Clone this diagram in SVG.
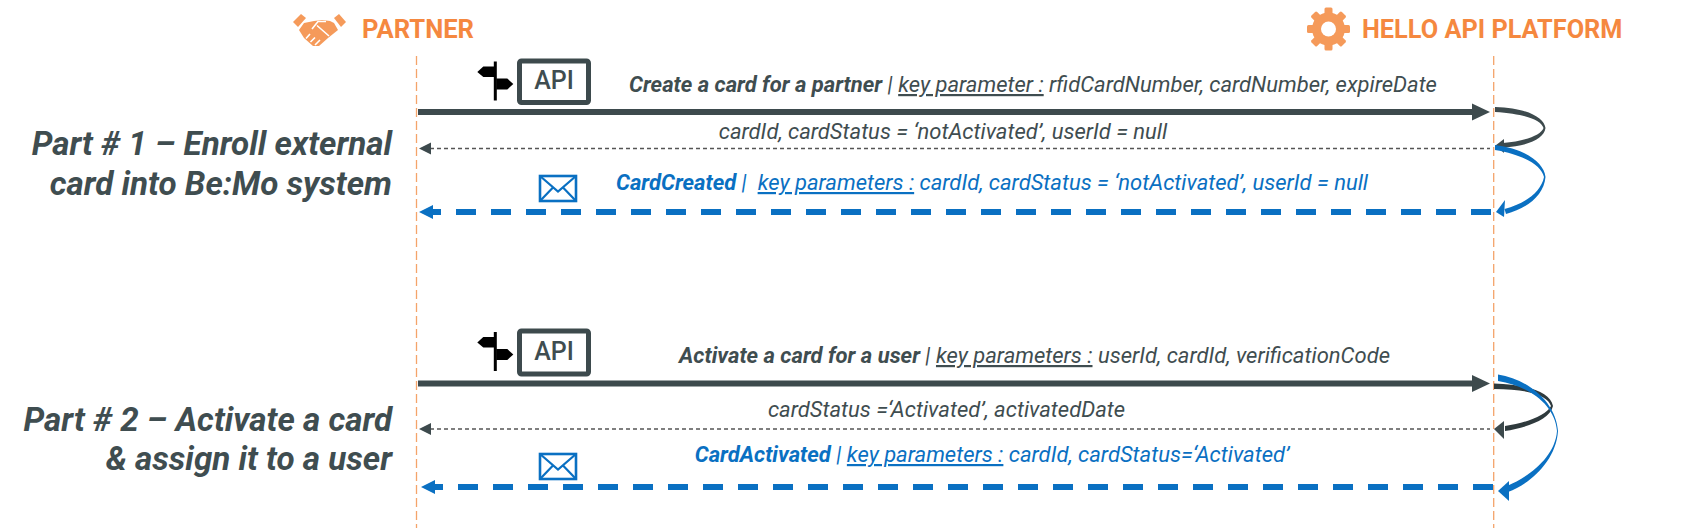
<svg xmlns="http://www.w3.org/2000/svg" width="1694" height="531" viewBox="0 0 1694 531">
<style>
text{font-family:Roboto,"Liberation Sans",sans-serif}
.life{stroke:#f4a46a;stroke-width:1.3;stroke-dasharray:9 4;fill:none}
.h{font-size:25.600px;font-weight:700;fill:#f5883f}
.t{font-size:33.200px;font-weight:700;font-style:italic;fill:#3f4d50;text-anchor:end}
.m{font-size:22px;font-style:italic;fill:#3f4d50;text-anchor:middle}
.b{font-weight:700}
.u{text-decoration:underline}
.main{stroke:#3d4a4d;stroke-width:6;fill:none}
.ret{stroke:#555;stroke-width:1.3;stroke-dasharray:4 3;fill:none}
.evt{stroke:#0a70c2;stroke-width:6;stroke-dasharray:20 15;fill:none}
.api{fill:#fff;stroke:#3d4a4d;stroke-width:5}
.apit{font-size:25px;font-weight:500;fill:#3f4d50;text-anchor:middle}
.mail{fill:#fff;stroke:#0a70c2;stroke-width:2.6}
.mail2{fill:none;stroke:#0a70c2;stroke-width:2.2}
.da{fill:#3d4a4d}.ba{fill:#0a70c2}
.gap{stroke:#fff;stroke-width:1.600;fill:none}
</style>
<defs>
<g id="sign"><rect x="-1.500" y="-21" width="3" height="39" fill="#000"/><path d="M-1-16H-12L-18-10.500-12-5.500H-1Z" fill="#000"/><path d="M1-4H12L18 1.500 12 7H1Z" fill="#000"/></g>
<g id="env"><rect class="mail" x="-18" y="-12.500" width="36" height="25"/><path class="mail2" d="M-18-12.500L0 3 18-12.500M-18 12.500L-5-1M18 12.500L5-1"/></g>
<rect id="tooth" x="1324.500" y="7.500" width="8" height="8" rx="1.500" fill="#f59a5a"/>
</defs>
<g id="partner">
<g fill="#f59a5a">
<path d="M293 22L301 14 306 18 298 27Z"/>
<path d="M334 18L339 14 346 22 341 27Z"/>
<path d="M304 23L314 21 322 20 330 21 334 23 338 30 328 38 319 46 313 46 304 38 299 30Z"/>
</g>
<path class="gap" d="M312 29L318 21.500 326 21.500M317 25.500L329 36M306 38.500L310 34M310.500 42L315 37.500M315 45L320 40"/>
<text class="h" x="362" y="38">PARTNER</text>
<line class="life" x1="416.500" y1="56" x2="416.500" y2="528"/>
</g>
<g id="platform">
<circle cx="1328.500" cy="29" r="16.500" fill="#f59a5a"/>
<use href="#tooth"/><use href="#tooth" transform="rotate(45 1328.500 29)"/><use href="#tooth" transform="rotate(90 1328.500 29)"/><use href="#tooth" transform="rotate(135 1328.500 29)"/><use href="#tooth" transform="rotate(180 1328.500 29)"/><use href="#tooth" transform="rotate(225 1328.500 29)"/><use href="#tooth" transform="rotate(270 1328.500 29)"/><use href="#tooth" transform="rotate(315 1328.500 29)"/>
<circle cx="1328.500" cy="29" r="7.500" fill="#fff"/>
<text class="h" x="1362" y="38" style="font-size:25.300px">HELLO API PLATFORM</text>
<line class="life" x1="1493.700" y1="56" x2="1493.700" y2="528"/>
</g>
<g id="part1-title"><text class="t" x="392" y="154.500">Part # 1 – Enroll external</text><text class="t" x="392" y="194.500">card into Be:Mo system</text></g>
<g id="part2-title"><text class="t" x="392" y="431">Part # 2 – Activate a card</text><text class="t" x="392" y="470">&amp; assign it to a user</text></g>
<g id="api1"><use href="#sign" x="495.300" y="82.500"/><rect class="api" x="519.500" y="61" width="69" height="41.500" rx="2"/><text class="apit" x="554" y="89">API</text></g>
<g id="api2"><use href="#sign" x="495.300" y="353"/><rect class="api" x="519.500" y="331" width="69" height="43" rx="2"/><text class="apit" x="554" y="360">API</text></g>
<g id="mail1"><use href="#env" x="558" y="188.500"/></g>
<g id="mail2"><use href="#env" x="558" y="466.500"/></g>
<g id="connectors">
<line class="main" x1="418" y1="112" x2="1474" y2="112"/><path class="da" d="M1472 103.500L1490 112 1472 120.500Z"/>
<line class="ret" x1="430" y1="148.500" x2="1490" y2="148.500"/><path class="da" d="M419 148.500L431 142.500V154.500Z"/>
<line class="evt" x1="1491" y1="212" x2="431" y2="212"/><path class="ba" d="M419 212L433 205V219Z"/>
<line class="main" x1="418" y1="383.500" x2="1474" y2="383.500"/><path class="da" d="M1472 375L1490 383.500 1472 392Z"/>
<line class="ret" x1="430" y1="429" x2="1490" y2="429"/><path class="da" d="M419 429L431 423V435Z"/>
<line class="evt" x1="1493" y1="487" x2="431" y2="487"/><path class="ba" d="M421 487L435 480V494Z"/>
<path d="M1495 107C1528 108 1544 118 1545.500 128C1544 139 1528 146 1503 147.500L1503 143C1526 141 1541 135 1543.500 128C1541 120 1526 114 1495 112Z" fill="#3d4a4d"/><path class="da" d="M1495.500 145.500L1504 139 1504 153Z"/>
<path d="M1495 145C1526 149 1544 163 1545.500 177C1544 195 1528 208 1506 214L1504.500 209C1526 203 1541 192 1544 177C1541 165 1524 155 1495 150Z" fill="#0a70c2"/><path class="ba" d="M1496 212L1505 200 1504 217Z"/>
<path d="M1494 383.500C1530 385 1550 392 1553 406C1550 420 1525 428 1505 431L1505 426C1525 423 1546 416 1551 406C1548 396 1530 389 1494 389Z" fill="#2f3a3d"/><path class="da" d="M1494 429L1504 421V439Z"/>
<path d="M1498 374.500C1528 379 1556 402 1558 431C1556 461 1530 484 1508 492L1507 486C1530 476 1555 457 1557 431C1555 404 1528 386 1498 381Z" fill="#0a70c2"/><path class="ba" d="M1498 491L1509 481V501Z"/>
</g>
<g id="labels">
<text class="m" x="1033" y="92"><tspan class="b">Create a card for a partner</tspan> | <tspan class="u">key parameter :</tspan> rfidCardNumber, cardNumber, expireDate</text>
<text class="m" x="943" y="139">cardId, cardStatus = ‘notActivated’, userId = null</text>
<text class="m" x="992" y="190" style="fill:#0a70c2"><tspan class="b">CardCreated</tspan> | &#160;<tspan class="u">key parameters :</tspan> cardId, cardStatus = ‘notActivated’, userId = null</text>
<text class="m" x="1034.500" y="363"><tspan class="b">Activate a card for a user</tspan> | <tspan class="u">key parameters :</tspan> userId, cardId, verificationCode</text>
<text class="m" x="946.500" y="417">cardStatus =‘Activated’, activatedDate</text>
<text class="m" x="992" y="462" style="fill:#0a70c2"><tspan class="b">CardActivated</tspan> | <tspan class="u">key parameters :</tspan> cardId, cardStatus=‘Activated’</text>
</g>
</svg>
